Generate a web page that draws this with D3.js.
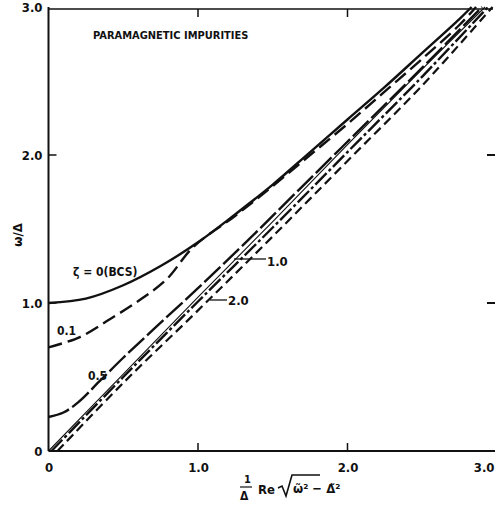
<!DOCTYPE html>
<html>
<head>
<meta charset="utf-8">
<script src="https://cdn.jsdelivr.net/npm/d3@7"></script>
<style>
body{margin:0;background:#fff;}
svg text{font-family:"Liberation Sans Narrow","DejaVu Sans Condensed","Liberation Sans",sans-serif;fill:#111;}
</style>
</head>
<body>
<script>
// ticks
var xTicks = [0,1,2,3];
var xTickLabels = ["0","1.0","2.0","3.0"];
var yTicks = [0,1,2,3];
var yTickLabels = ["0","1.0","2.0","3.0"];

// curves: [x, y]
var bcsX = [0,0.25,0.5,0.75,1.0,1.25,1.5,1.75,2.0,2.25,2.5,2.75,2.83];
var bcsY = [1.0,1.03,1.12,1.25,1.41,1.6,1.8,2.02,2.24,2.46,2.69,2.92,3.0];
var z01X = [0,0.21,0.41,0.61,0.79,0.97,1.25,1.5,1.75,2.0,2.25,2.5,2.75,2.86];
var z01Y = [0.70,0.77,0.89,1.02,1.16,1.38,1.59,1.79,2.0,2.21,2.43,2.65,2.88,3.0];
var z05X = [0,0.1,0.2,0.34,0.5,0.7,1.0,1.34,1.7,2.1,2.5,2.9];
var z05Y = [0.23,0.26,0.33,0.47,0.63,0.82,1.10,1.43,1.79,2.19,2.59,3.0];
var z10X = [0,0.5,1.0,1.5,2.0,2.5,2.92];
var z10Y = [0,0.52,1.04,1.55,2.07,2.58,3.0];
var z15X = [0.02,0.5,1.0,1.5,2.0,2.5,2.94];
var z15Y = [0,0.5,1.01,1.51,2.02,2.53,3.0];
var z20X = [0.06,0.5,1.0,1.5,2.0,2.5,2.97];
var z20Y = [0,0.46,0.95,1.45,1.96,2.47,3.0];

var W = 495, H = 508;
var svg = d3.select("body").append("svg").attr("width",W).attr("height",H);

var x = d3.scaleLinear().domain([0,3]).range([48.5,497]);
var y = d3.scaleLinear().domain([0,3]).range([451,7]);

// frame: left, bottom, top
svg.append("line").attr("x1",x(0)).attr("x2",x(0)).attr("y1",y(0)).attr("y2",y(3))
   .attr("stroke","#111").attr("stroke-width",2);
svg.append("line").attr("x1",x(0)).attr("x2",495).attr("y1",y(0)).attr("y2",y(0))
   .attr("stroke","#111").attr("stroke-width",2);
svg.append("line").attr("x1",x(0)).attr("x2",493).attr("y1",y(3)+2).attr("y2",y(3)+2)
   .attr("stroke","#111").attr("stroke-width",1.6);

// bottom axis labels
var xAxis = d3.axisBottom(x).tickValues(xTicks).tickSize(0).tickPadding(12)
    .tickFormat(function(d,i){ return xTickLabels[i]; });
var gx = svg.append("g").attr("transform","translate(0,"+y(0)+")").call(xAxis);
gx.select(".domain").remove();
gx.selectAll("text").style("font-size","13px").style("font-weight","bold");
gx.selectAll(".tick").filter(function(d){return d===3;}).select("text")
  .attr("text-anchor","end").attr("x",-3);

var yAxis = d3.axisLeft(y).tickValues(yTicks).tickSize(0).tickPadding(6)
    .tickFormat(function(d,i){ return yTickLabels[i]; });
var gy = svg.append("g").attr("transform","translate("+x(0)+",0)").call(yAxis);
gy.select(".domain").remove();
gy.selectAll("text").style("font-size","13px").style("font-weight","bold");

// tick marks pointing inward
svg.selectAll(".xb").data([1,2]).enter().append("line")
   .attr("x1",function(d){return x(d);}).attr("x2",function(d){return x(d);})
   .attr("y1",y(0)).attr("y2",y(0)-8).attr("stroke","#111").attr("stroke-width",1.5);
svg.selectAll(".xt").data([1,2]).enter().append("line")
   .attr("x1",function(d){return x(d);}).attr("x2",function(d){return x(d);})
   .attr("y1",y(3)+2).attr("y2",y(3)+10).attr("stroke","#111").attr("stroke-width",1.5);
svg.selectAll(".yl").data([1,2]).enter().append("line")
   .attr("x1",x(0)).attr("x2",x(0)+8)
   .attr("y1",function(d){return y(d);}).attr("y2",function(d){return y(d);})
   .attr("stroke","#111").attr("stroke-width",1.5);
svg.selectAll(".yr").data([1,2]).enter().append("line")
   .attr("x1",487).attr("x2",495)
   .attr("y1",function(d){return y(d);}).attr("y2",function(d){return y(d);})
   .attr("stroke","#111").attr("stroke-width",2);

var line = d3.line().x(function(d){return x(d[0]);}).y(function(d){return y(d[1]);})
    .curve(d3.curveCatmullRom.alpha(0.5));
function pts(a,b){ return a.map(function(v,i){ return [v,b[i]]; }); }

var series = [
  {d:pts(bcsX,bcsY), w:2.4, dash:null},
  {d:pts(z01X,z01Y), w:2.4, dash:"14,6"},
  {d:pts(z05X,z05Y), w:2.4, dash:"22,4"},
  {d:pts(z10X,z10Y), w:1.1, dash:null},
  {d:pts(z15X,z15Y), w:2.4, dash:"16,3,3,3"},
  {d:pts(z20X,z20Y), w:2.2, dash:"9,5"}
];
svg.selectAll(".curve").data(series).enter().append("path")
   .attr("d",function(s){return line(s.d);})
   .attr("fill","none").attr("stroke","#111")
   .attr("stroke-width",function(s){return s.w;})
   .attr("stroke-dasharray",function(s){return s.dash;});

// labels
svg.append("text").attr("x",93).attr("y",39).style("font-size","11px").style("font-weight","bold")
   .text("PARAMAGNETIC IMPURITIES");
svg.append("text").attr("x",73).attr("y",276).style("font-size","12px").style("font-weight","bold")
   .text("ζ = 0(BCS)");
svg.append("text").attr("x",57).attr("y",335).style("font-size","12px").style("font-weight","bold").text("0.1");
svg.append("text").attr("x",88).attr("y",380).style("font-size","12px").style("font-weight","bold").text("0.5");
svg.append("text").attr("x",267).attr("y",266).style("font-size","13px").style("font-weight","bold").text("1.0");
svg.append("line").attr("x1",234).attr("x2",266).attr("y1",259).attr("y2",259).attr("stroke","#111").attr("stroke-width",1.3);
svg.append("text").attr("x",228).attr("y",305).style("font-size","13px").style("font-weight","bold").text("2.0");
svg.append("line").attr("x1",210).attr("x2",227).attr("y1",300).attr("y2",300).attr("stroke","#111").attr("stroke-width",1.3);

// y label
svg.append("text").attr("transform","translate(22,235) rotate(-90)").attr("text-anchor","middle")
   .style("font-size","13px").style("font-weight","bold").text("ω/Δ");

// x label
var xl = svg.append("g").attr("transform","translate(240,0)");
xl.append("text").attr("x",4).attr("y",483).style("font-size","11px").style("font-weight","bold").text("1");
xl.append("line").attr("x1",0).attr("x2",12).attr("y1",487).attr("y2",487).attr("stroke","#111").attr("stroke-width",1.2);
xl.append("text").attr("x",0).attr("y",500).style("font-size","12px").style("font-weight","bold").text("Δ");
xl.append("text").attr("x",18).attr("y",494).style("font-size","13px").style("font-weight","bold").text("Re");
xl.append("path").attr("d","M38,488 L42,486 L46,496 L52,475 L80,475").attr("fill","none").attr("stroke","#111").attr("stroke-width",1.6);
xl.append("text").attr("x",53).attr("y",493).style("font-size","13px").style("font-weight","bold").text("ω̃² − Δ̃²");
</script>
</body>
</html>
